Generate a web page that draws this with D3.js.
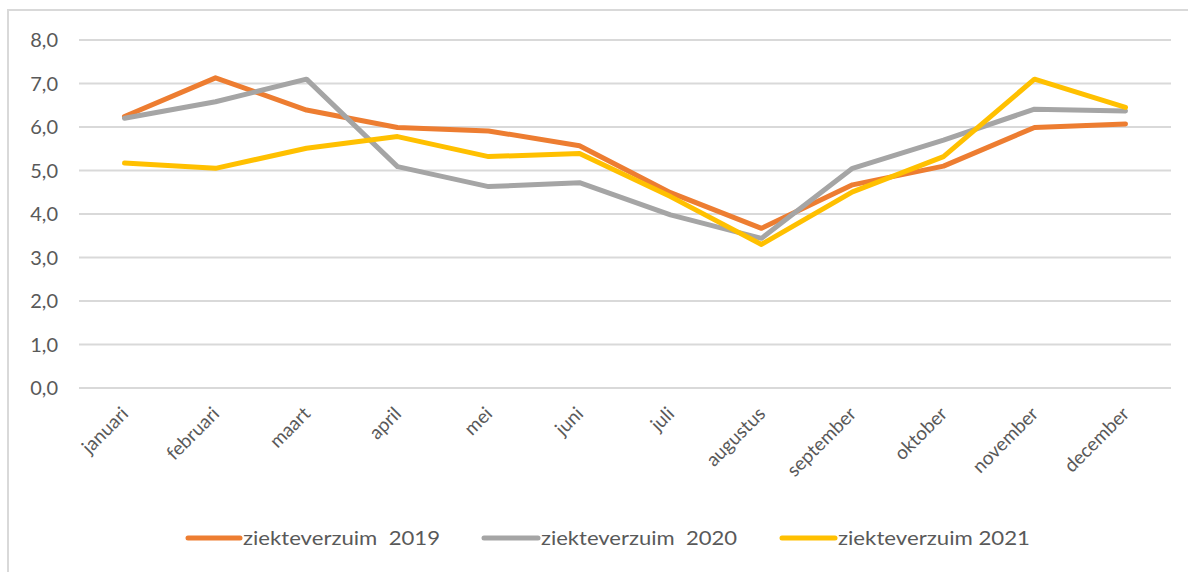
<!DOCTYPE html>
<html>
<head>
<meta charset="utf-8">
<script src="https://cdn.jsdelivr.net/npm/d3@7/dist/d3.min.js"></script>
<style>
  html, body { margin: 0; padding: 0; background: #fff; }
  svg { display: block; }
  text { font-family: Lato, "Open Sans", sans-serif; fill: #595959; }
</style>
</head>
<body>
<svg id="chart" width="1188" height="572"></svg>
<script>
const months = ["januari","februari","maart","april","mei","juni","juli","augustus","september","oktober","november","december"];
const seriesNames = ["ziekteverzuim  2019", "ziekteverzuim  2020", "ziekteverzuim 2021"];
const values2019 = [6.24, 7.13, 6.39, 5.99, 5.91, 5.57, 4.49, 3.67, 4.67, 5.10, 5.99, 6.07];
const values2020 = [6.20, 6.58, 7.10, 5.09, 4.63, 4.72, 3.98, 3.44, 5.05, 5.70, 6.41, 6.37];
const values2021 = [5.17, 5.05, 5.51, 5.78, 5.32, 5.39, 4.40, 3.30, 4.51, 5.32, 7.10, 6.45];
const yTicks = [0, 1, 2, 3, 4, 5, 6, 7, 8];
const colors = ["#ED7D31", "#A5A5A5", "#FFC000"];

const series = [values2019, values2020, values2021].map((v, i) => ({ name: seriesNames[i], values: v, color: colors[i] }));

const svg = d3.select("#chart");

// outer border (only left and top visible)
svg.append("rect").attr("x", 8).attr("y", 10).attr("width", 1300).attr("height", 700)
  .attr("fill", "none").attr("stroke", "#D9D9D9").attr("stroke-width", 2);

const x = d3.scaleBand().domain(months).range([79, 1171]);
const y = d3.scaleLinear().domain([0, 8]).range([388, 40]);
const cx = m => x(m) + x.bandwidth() / 2;

// gridlines
svg.append("g").selectAll("line").data(yTicks).join("line")
  .attr("x1", 79).attr("x2", 1171)
  .attr("y1", d => y(d)).attr("y2", d => y(d))
  .attr("stroke", "#D9D9D9").attr("stroke-width", 2);

// y labels
const fmt = d => d3.format(".1f")(d).replace(".", ",");
svg.append("g").selectAll("text").data(yTicks).join("text")
  .attr("x", 58).attr("y", d => y(d)).attr("dy", "0.35em")
  .attr("text-anchor", "end").style("font-size", "20px")
  .text(fmt);

// x labels
svg.append("g").selectAll("text").data(months).join("text")
  .attr("transform", d => `translate(${cx(d) + 5},${415}) rotate(-45)`)
  .attr("text-anchor", "end").style("font-size", "19px")
  .text(d => d);

// lines
const line = d3.line().x((d, i) => cx(months[i])).y(d => y(d));
svg.append("g").selectAll("path").data(series).join("path")
  .attr("d", d => line(d.values))
  .attr("fill", "none").attr("stroke", d => d.color)
  .attr("stroke-width", 5).attr("stroke-linejoin", "round").attr("stroke-linecap", "round");

// legend
const legendItems = [
  { x1: 188, x2: 240, tx: 243, w: 197 },
  { x1: 484, x2: 538, tx: 541, w: 196 },
  { x1: 782, x2: 835, tx: 838, w: 192 }
];
const lg = svg.append("g").selectAll("g").data(series).join("g");
lg.append("line")
  .attr("x1", (d, i) => legendItems[i].x1).attr("x2", (d, i) => legendItems[i].x2)
  .attr("y1", 538).attr("y2", 538)
  .attr("stroke", d => d.color).attr("stroke-width", 5).attr("stroke-linecap", "round");
lg.append("text")
  .attr("x", (d, i) => legendItems[i].tx).attr("y", 538).attr("dy", "0.35em")
  .attr("xml:space", "preserve").style("white-space", "pre")
  .style("font-size", "20px")
  .attr("textLength", (d, i) => legendItems[i].w).attr("lengthAdjust", "spacingAndGlyphs")
  .text(d => d.name);
</script>
</body>
</html>
